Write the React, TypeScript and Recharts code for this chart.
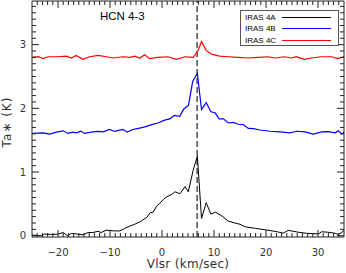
import React from 'react';
import { LineChart, Line, XAxis, YAxis, ReferenceLine, Legend } from 'recharts';

// [Vlsr (km/s), Ta* (K)]
const IRAS_4A: [number, number][] = [
  [-25, 0.01], [-23.2, 0.0], [-22.6, 0.025], [-21.3, 0.02], [-20.0, 0.025], [-19.0, 0.05],
  [-18.2, 0.0], [-17.4, 0.036], [-16.2, 0.025], [-15.2, 0.015], [-14.2, 0.05], [-13.3, 0.05],
  [-12.3, 0.07], [-11.7, 0.05], [-10.7, 0.088], [-9.1, 0.075], [-8.1, 0.075], [-7.2, 0.115],
  [-6.2, 0.15], [-5.25, 0.18], [-4.2, 0.22], [-2.9, 0.29], [-2.3, 0.36], [-1.7, 0.37],
  [-1.0, 0.47], [-0.4, 0.51], [0.25, 0.57], [0.9, 0.61], [1.9, 0.65], [2.5, 0.69],
  [3.46, 0.66], [4.42, 0.77], [5.06, 0.69], [6.0, 1.03], [6.8, 1.25], [7.6, 0.27],
  [8.5, 0.52], [9.4, 0.34], [10.3, 0.37], [11.7, 0.3], [12.7, 0.23], [14.0, 0.2],
  [15.0, 0.18], [16.0, 0.14], [18.0, 0.115], [20.1, 0.09], [22.0, 0.065], [23.3, 0.04],
  [24.3, 0.085], [26.2, 0.055], [27.8, 0.038], [30.1, 0.028], [30.7, 0.062], [31.9, 0.055],
  [33.3, 0.038], [33.9, 0.02], [34.6, 0.055], [35, 0.085],
];

const IRAS_4B: [number, number][] = [
  [-25, 1.6], [-24.8, 1.606], [-22.9, 1.616], [-21.6, 1.595], [-20.3, 1.626], [-19.0, 1.647],
  [-18.1, 1.606], [-17.1, 1.626], [-16.5, 1.616], [-15.6, 1.642], [-14.9, 1.606], [-13.6, 1.626],
  [-12.3, 1.637], [-11.3, 1.63], [-10.1, 1.668], [-9.1, 1.637], [-7.5, 1.668], [-6.7, 1.626],
  [-5.6, 1.668], [-4.3, 1.689], [-3.3, 1.71], [-2.1, 1.74], [-0.8, 1.77], [0.5, 1.815],
  [1.5, 1.835], [2.4, 1.89], [3.4, 1.875], [4.2, 1.99], [5.1, 2.05], [5.9, 2.42],
  [6.8, 2.55], [7.6, 1.98], [8.5, 2.09], [9.4, 1.945], [10.2, 1.93], [11.0, 1.835],
  [11.8, 1.835], [12.75, 1.77], [13.7, 1.78], [14.7, 1.75], [15.6, 1.745], [16.6, 1.685],
  [17.6, 1.68], [18.8, 1.66], [20.8, 1.64], [22.7, 1.63], [24.6, 1.615], [25.9, 1.64],
  [27.5, 1.63], [29.1, 1.595], [30.7, 1.63], [32.0, 1.635], [33.3, 1.615], [33.9, 1.647],
  [34.6, 1.595], [35, 1.63],
];

const IRAS_4C: [number, number][] = [
  [-25, 2.8], [-23.8, 2.81], [-22.9, 2.78], [-21.9, 2.81], [-20.0, 2.81], [-18.4, 2.82],
  [-17.4, 2.79], [-16.5, 2.83], [-15.2, 2.77], [-13.9, 2.81], [-12.3, 2.83], [-10.7, 2.81],
  [-9.4, 2.79], [-7.5, 2.81], [-6.2, 2.8], [-5.25, 2.82], [-4.3, 2.79], [-3.3, 2.84],
  [-2.4, 2.78], [-0.8, 2.8], [1.15, 2.81], [2.75, 2.77], [4.4, 2.81], [6.0, 2.8],
  [6.9, 2.9], [7.6, 3.05], [8.5, 2.91], [9.5, 2.85], [11.1, 2.82], [12.7, 2.81],
  [14.6, 2.8], [16.5, 2.79], [18.5, 2.8], [20.4, 2.81], [21.7, 2.79], [23.6, 2.81],
  [24.9, 2.79], [25.8, 2.81], [27.4, 2.77], [28.7, 2.79], [30.6, 2.81], [32.6, 2.81],
  [33.8, 2.78], [35, 2.81],
];

const X_LABELS = [-20, -10, 0, 10, 20, 30];
const Y_LABELS = [0, 1, 2, 3];
const X_TICKS = Array.from({ length: 59 }, (_, i) => i - 24);
const Y_TICKS = Array.from({ length: 37 }, (_, i) => i / 10);
const V_LSR = 6.75;

const toRows = (pts: [number, number][]) => pts.map(([v, t]) => ({ v, t }));

const AXIS = '#222';
const TICK_FONT = '"DejaVu Sans", sans-serif';

const isMajorY = (v: number) => Y_LABELS.some((l) => Math.abs(l - v) < 1e-6);
const fmt = (v: number) => (v < 0 ? `\u2212${-v}` : `${v}`);

const BottomTick = ({ x, y, payload }: any) => {
  const major = X_LABELS.includes(payload.value);
  return (
    <g>
      <line x1={x} x2={x} y1={y} y2={y - (major ? 7 : 4)} stroke={AXIS} />
      {major && (
        <text x={x} y={y + 19} textAnchor="middle" fontFamily={TICK_FONT} fontSize={10} fill="#333">
          {fmt(payload.value)}
        </text>
      )}
    </g>
  );
};

const TopTick = ({ x, y, payload }: any) => {
  const major = X_LABELS.includes(payload.value);
  return <line x1={x} x2={x} y1={y} y2={y + (major ? 7 : 4)} stroke={AXIS} />;
};

const LeftTick = ({ x, y, payload }: any) => {
  const major = isMajorY(payload.value);
  return (
    <g>
      <line x1={x} x2={x + (major ? 7 : 4)} y1={y} y2={y} stroke={AXIS} />
      {major && (
        <text x={x - 6} y={y} dy="0.36em" textAnchor="end" fontFamily={TICK_FONT} fontSize={10} fill="#333">
          {Math.round(payload.value)}
        </text>
      )}
    </g>
  );
};

const RightTick = ({ x, y, payload }: any) => {
  const major = isMajorY(payload.value);
  return <line x1={x} x2={x - (major ? 7 : 4)} y1={y} y2={y} stroke={AXIS} />;
};

const LegendBox = ({ payload }: any) => (
  <div
    style={{
      border: '1px solid #555',
      width: 99,
      height: 36,
      boxSizing: 'border-box',
      padding: '1px 0 0 4px',
      background: '#fff',
      fontFamily: '"Liberation Sans Narrow", "Liberation Sans", Arial, sans-serif',
      fontSize: 8,
      color: '#000',
    }}
  >
    {(payload || []).map((p: any) => (
      <div key={p.value} style={{ display: 'flex', alignItems: 'center', height: 11.3 }}>
        <span style={{ width: 37, lineHeight: '11px' }}>{p.value}</span>
        <span style={{ width: 49, height: 0, borderTop: `1.2px solid ${p.color}` }} />
      </div>
    ))}
  </div>
);

export default function App() {
  return (
    <div style={{ position: 'absolute', left: 0, top: 0, width: 346, height: 273, background: '#fff' }}>
      <LineChart width={346} height={273} margin={{ top: 0, right: 1, bottom: 35, left: 31 }}>
        <XAxis
          xAxisId="b"
          dataKey="v"
          type="number"
          domain={[-25, 35]}
          allowDataOverflow
          ticks={X_TICKS}
          interval={0}
          height={1}
          tickSize={0}
          tickMargin={0}
          tickLine={false}
          axisLine={{ stroke: AXIS }}
          tick={BottomTick}
        />
        <XAxis
          xAxisId="t"
          orientation="top"
          dataKey="v"
          type="number"
          domain={[-25, 35]}
          allowDataOverflow
          ticks={X_TICKS}
          interval={0}
          height={1}
          tickSize={0}
          tickMargin={0}
          tickLine={false}
          axisLine={{ stroke: AXIS }}
          tick={TopTick}
        />
        <YAxis
          yAxisId="l"
          type="number"
          domain={[-0.02, 3.685]}
          allowDataOverflow
          ticks={Y_TICKS}
          interval={0}
          width={1}
          tickSize={0}
          tickMargin={0}
          tickLine={false}
          axisLine={{ stroke: AXIS }}
          tick={LeftTick}
        />
        <YAxis
          yAxisId="r"
          orientation="right"
          type="number"
          domain={[-0.02, 3.685]}
          allowDataOverflow
          ticks={Y_TICKS}
          interval={0}
          width={1}
          tickSize={0}
          tickMargin={0}
          tickLine={false}
          axisLine={{ stroke: AXIS }}
          tick={RightTick}
        />
        <ReferenceLine xAxisId="b" yAxisId="l" x={V_LSR} stroke="#222" strokeWidth={1.2} strokeDasharray="6 3" />
        <Line
          xAxisId="b"
          yAxisId="l"
          data={toRows(IRAS_4A)}
          dataKey="t"
          name="IRAS 4A"
          type="linear"
          stroke="#000"
          strokeWidth={1}
          dot={false}
          isAnimationActive={false}
        />
        <Line
          xAxisId="b"
          yAxisId="l"
          data={toRows(IRAS_4B)}
          dataKey="t"
          name="IRAS 4B"
          type="linear"
          stroke="#0000ff"
          strokeWidth={1.2}
          dot={false}
          isAnimationActive={false}
        />
        <Line
          xAxisId="b"
          yAxisId="l"
          data={toRows(IRAS_4C)}
          dataKey="t"
          name="IRAS 4C"
          type="linear"
          stroke="#ff0000"
          strokeWidth={1.2}
          dot={false}
          isAnimationActive={false}
        />
        <Legend
          layout="vertical"
          align="center"
          verticalAlign="middle"
          content={LegendBox}
          wrapperStyle={{ left: 240, top: 10, width: 99, height: 36 }}
        />
      </LineChart>
      <svg
        width={346}
        height={273}
        style={{ position: 'absolute', left: 0, top: 0, pointerEvents: 'none' }}
      >
        <text x={100} y={20} fontFamily='"Liberation Sans", Arial, sans-serif' fontSize={11.5} fill="#000">
          HCN 4-3
        </text>
        <text x={188} y={268} textAnchor="middle" fontFamily={TICK_FONT} fontSize={12} letterSpacing={0.3} fill="#333">
          Vlsr (km/sec)
        </text>
        <text
          transform="translate(11,122) rotate(-90)"
          textAnchor="middle"
          fontFamily={TICK_FONT}
          fontSize={12}
          letterSpacing={1}
          fill="#333"
        >
          Ta∗ (K)
        </text>
      </svg>
    </div>
  );
}
